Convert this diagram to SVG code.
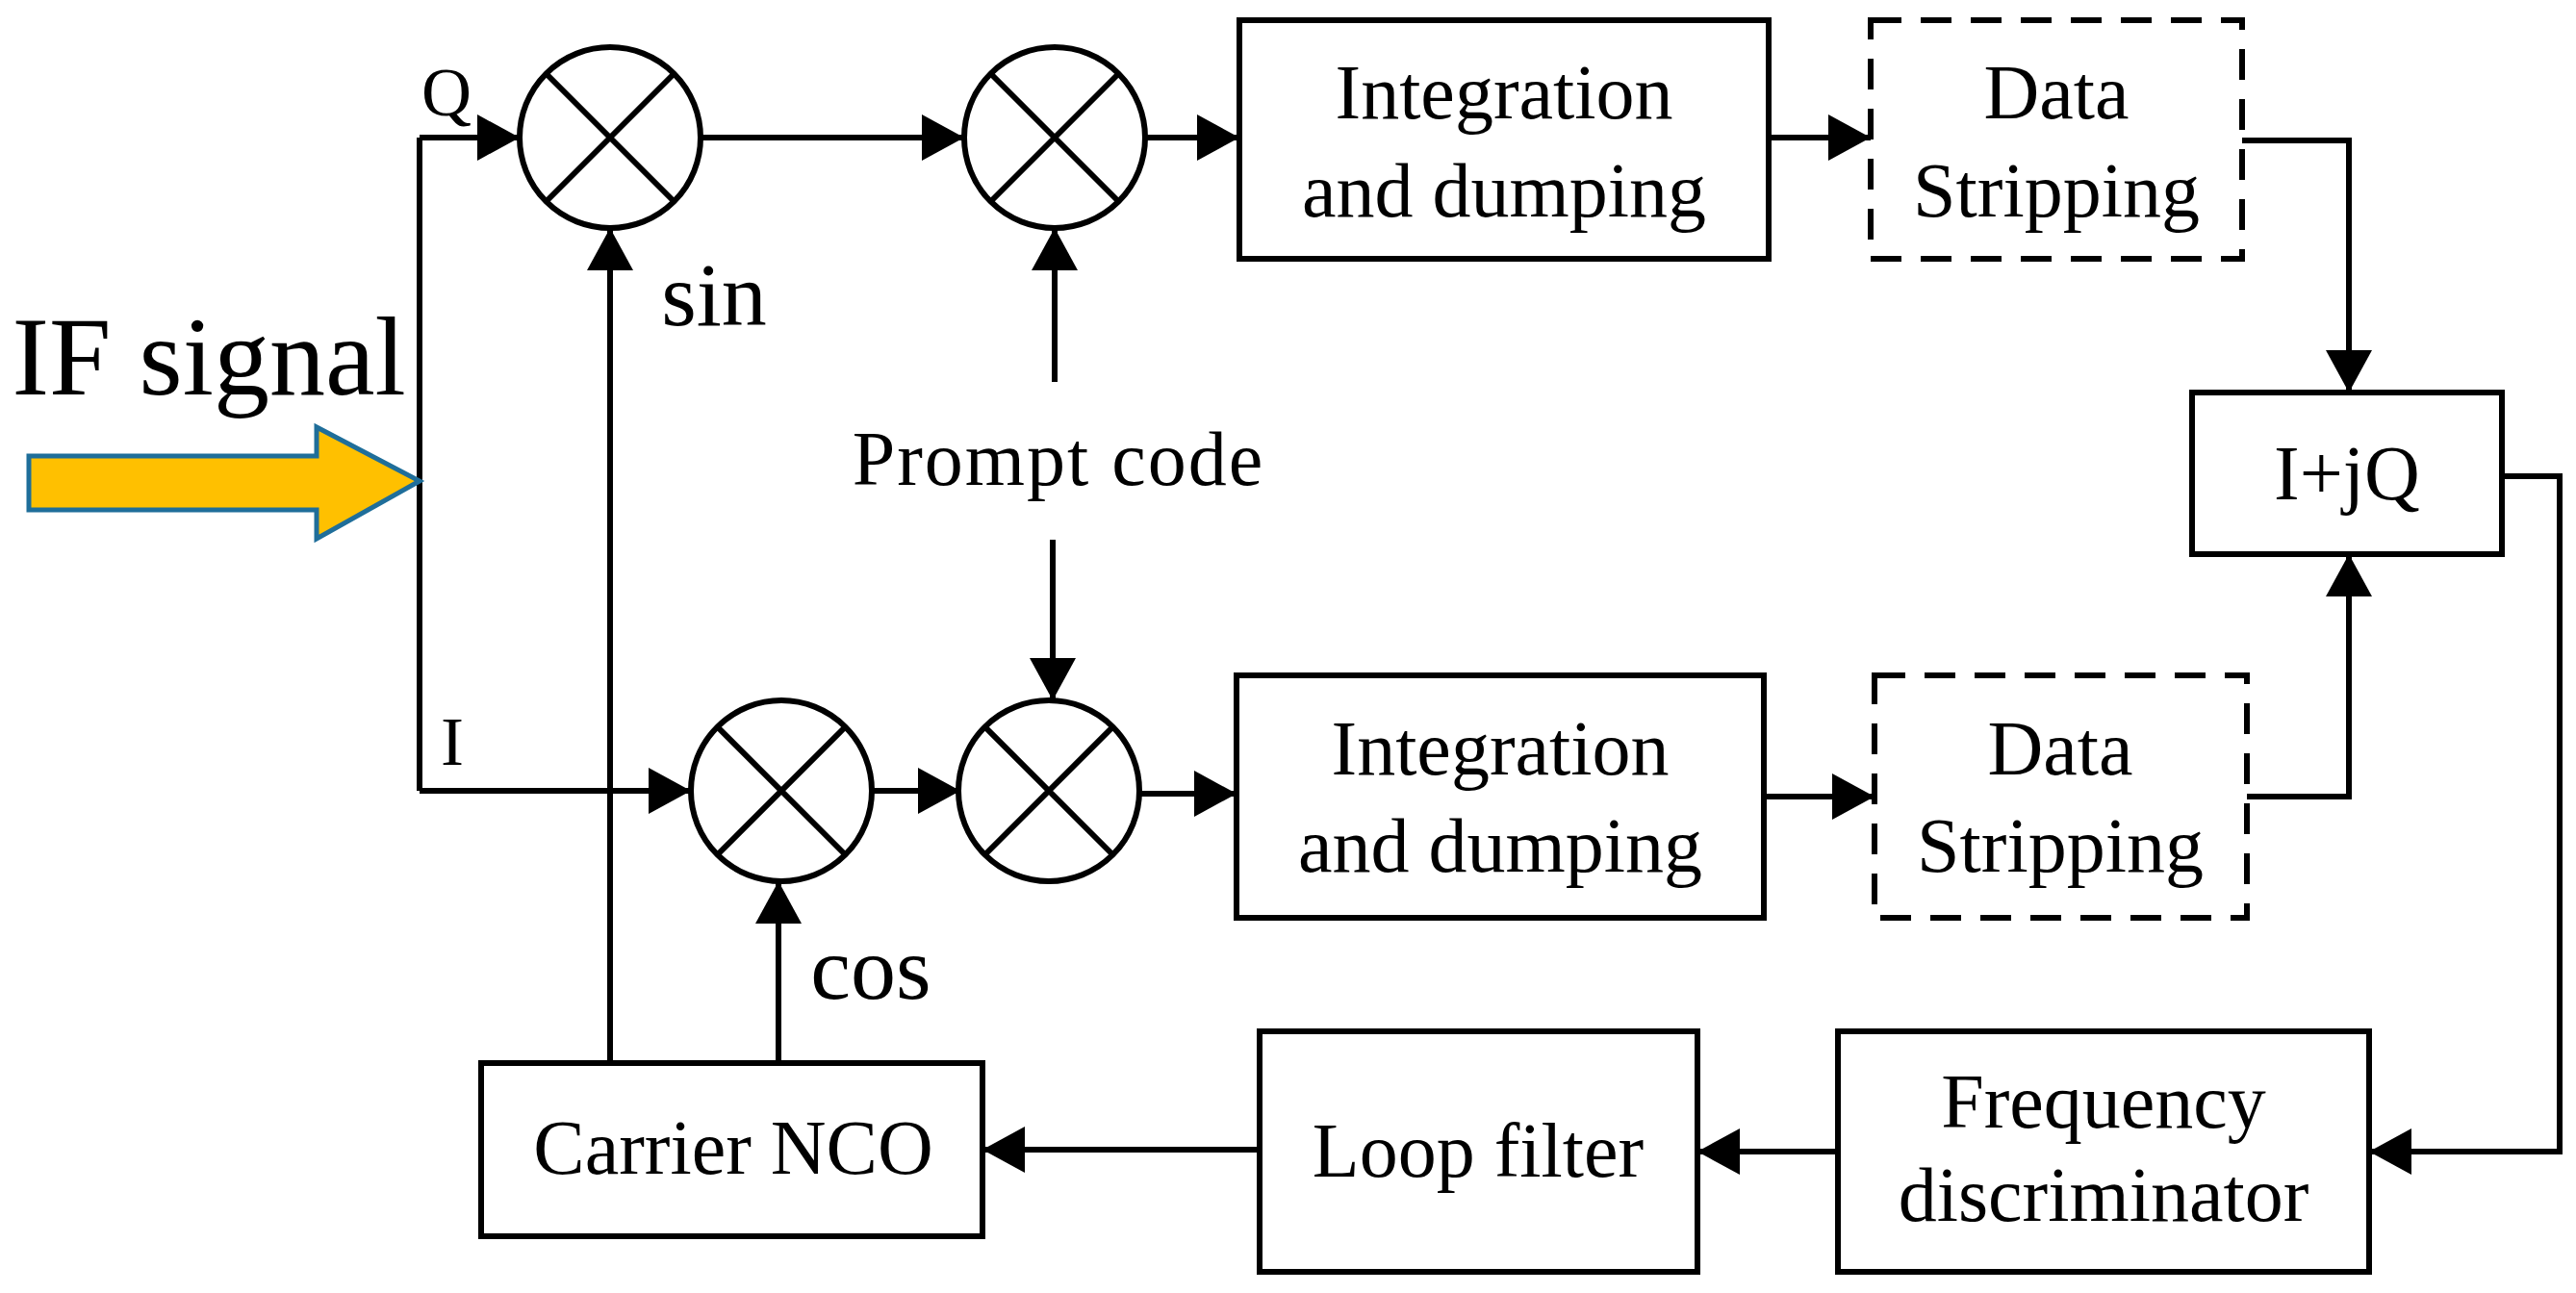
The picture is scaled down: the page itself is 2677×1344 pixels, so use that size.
<svg xmlns="http://www.w3.org/2000/svg" width="2677" height="1344" viewBox="0 0 2677 1344">
<style>
text{font-family:"Liberation Serif","Times New Roman",serif;fill:#000;text-anchor:middle}
.b{fill:#fff;stroke:#000;stroke-width:6}
.d{fill:#fff;stroke:#000;stroke-width:6;stroke-dasharray:32,20}
.l{fill:none;stroke:#000;stroke-width:6}
.t{font-size:80px}
</style>
<defs>
<marker id="a" markerUnits="userSpaceOnUse" markerWidth="46" markerHeight="48" refX="44" refY="24" orient="auto"><path d="M0,0 L44,24 L0,48 z" fill="#000"/></marker>
<g id="mx"><circle r="94" class="b"/><path class="l" d="M-66,-66 L66,66 M66,-66 L-66,66"/></g>
</defs>
<rect width="2677" height="1344" fill="#fff"/>
<g id="connectors" class="l">
<path d="M436,143 V822"/>
<path d="M436,143 H540" marker-end="url(#a)"/>
<path d="M436,822 H718" marker-end="url(#a)"/>
<path d="M728,143 H1002" marker-end="url(#a)"/>
<path d="M1190,143 H1288" marker-end="url(#a)"/>
<path d="M1838,143 H1944" marker-end="url(#a)"/>
<path d="M2330,146 H2441 V408" marker-end="url(#a)"/>
<path d="M634,1105 V237" marker-end="url(#a)"/>
<path d="M809,1105 V916" marker-end="url(#a)"/>
<path d="M1096,397 V237" marker-end="url(#a)"/>
<path d="M1094,561 V728" marker-end="url(#a)"/>
<path d="M906,822 H998" marker-end="url(#a)"/>
<path d="M1186,825 H1285" marker-end="url(#a)"/>
<path d="M1833,828 H1948" marker-end="url(#a)"/>
<path d="M2335,828 H2441 V576" marker-end="url(#a)"/>
<path d="M2600,495 H2660 V1197 H2462" marker-end="url(#a)"/>
<path d="M1910,1197 H1764" marker-end="url(#a)"/>
<path d="M1309,1195 H1021" marker-end="url(#a)"/>
</g>
<g id="if-arrow"><polygon points="30,474 329,474 329,444 436,500 329,560 329,530 30,530" fill="#FFC000" stroke="#1F6E9A" stroke-width="5"/><text x="217" y="410" font-size="116">IF signal</text></g>
<g id="mixer1"><use href="#mx" x="634" y="143"/></g>
<g id="mixer2"><use href="#mx" x="1096" y="143"/></g>
<g id="mixer3"><use href="#mx" x="812" y="822"/></g>
<g id="mixer4"><use href="#mx" x="1090" y="822"/></g>
<g id="labels">
<text x="464" y="120" font-size="72">Q</text>
<text x="470" y="795" font-size="72">I</text>
<text x="742" y="338" font-size="94">sin</text>
<text x="905" y="1038" font-size="94">cos</text>
<text x="1100" y="504" class="t" letter-spacing="2">Prompt code</text>
</g>
<g id="int-top"><rect x="1288" y="21" width="550" height="248" class="b"/><text x="1563" y="123" class="t">Integration</text><text x="1563" y="225" class="t">and dumping</text></g>
<g id="data-top"><rect x="1944" y="21" width="386" height="248" class="d"/><text x="2137" y="123" class="t">Data</text><text x="2137" y="225" class="t">Stripping</text></g>
<g id="iq"><rect x="2278" y="408" width="322" height="168" class="b"/><text x="2439" y="519" class="t">I+jQ</text></g>
<g id="int-bot"><rect x="1285" y="702" width="548" height="252" class="b"/><text x="1559" y="805" class="t">Integration</text><text x="1559" y="906" class="t">and dumping</text></g>
<g id="data-bot"><rect x="1948" y="702" width="387" height="252" class="d"/><text x="2141" y="805" class="t">Data</text><text x="2141" y="906" class="t">Stripping</text></g>
<g id="freq"><rect x="1910" y="1072" width="552" height="250" class="b"/><text x="2186" y="1172" class="t">Frequency</text><text x="2186" y="1269" class="t">discriminator</text></g>
<g id="loop"><rect x="1309" y="1072" width="455" height="250" class="b"/><text x="1536" y="1223" class="t">Loop filter</text></g>
<g id="nco"><rect x="500" y="1105" width="521" height="180" class="b"/><text x="762" y="1220" class="t">Carrier NCO</text></g>
</svg>
